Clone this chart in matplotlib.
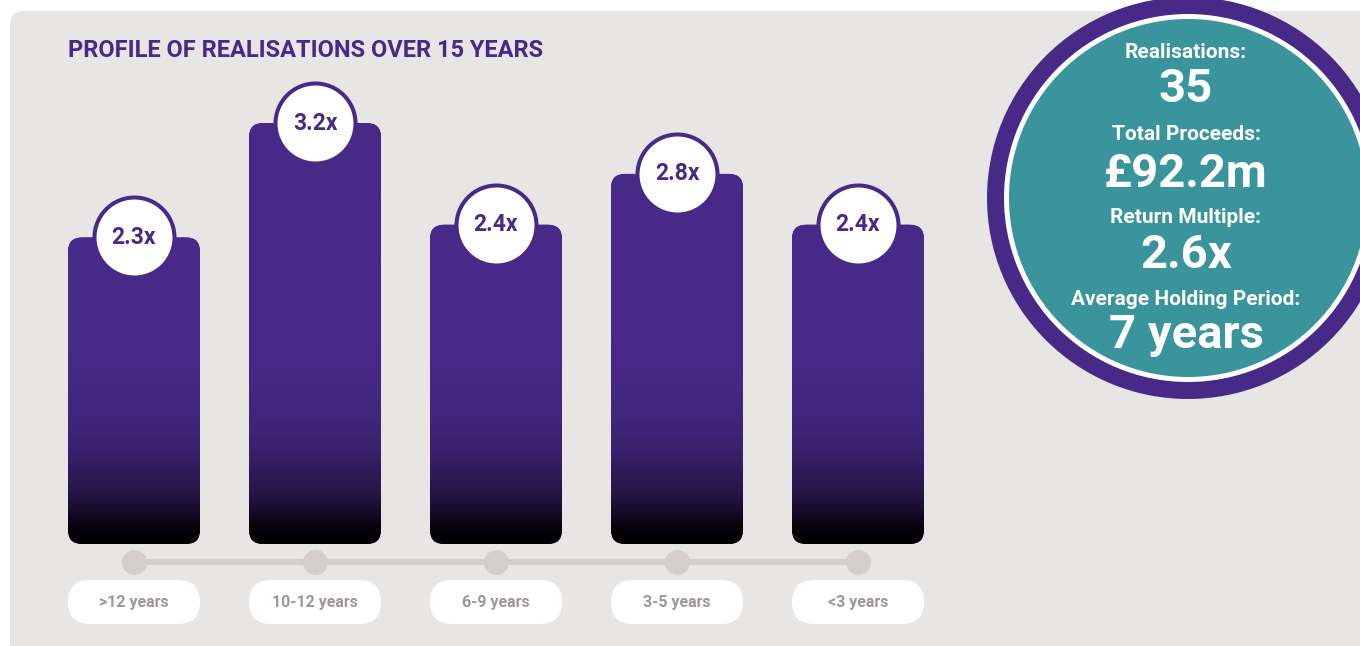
import matplotlib
matplotlib.use('Agg')
import matplotlib.pyplot as plt
from matplotlib.patches import FancyBboxPatch, Circle
from matplotlib.colors import LinearSegmentedColormap
import numpy as np

# ---------------- data ----------------
categories = ['>12 years', '10-12 years', '6-9 years', '3-5 years', '<3 years']
multiples = [2.3, 3.2, 2.4, 2.8, 2.4]
title = 'PROFILE OF REALISATIONS OVER 15 YEARS'
summary_labels = ['Realisations:', 'Total Proceeds:', 'Return Multiple:', 'Average Holding Period:']
summary_values = ['35', '£92.2m', '2.6x', '7 years']

# ---------------- style ----------------
PURPLE = '#472a88'
TEAL = '#3a949c'
PANEL = '#e7e6e4'
TL_GREY = '#d4cece'
LBL_GREY = '#9e9698'
FONT = ['Roboto', 'DejaVu Sans']
plt.rcParams['font.family'] = FONT

W, H = 1360, 646
fig = plt.figure(figsize=(W / 100, H / 100), dpi=100)
fig.patch.set_facecolor('white')

# background axes in pixel coordinates
bg = fig.add_axes([0, 0, 1, 1])
bg.set_xlim(0, W)
bg.set_ylim(H, 0)
bg.axis('off')
bg.add_patch(FancyBboxPatch((10, 11), 1500, 800, boxstyle='round,pad=0,rounding_size=14',
                            fc=PANEL, ec='none'))
bg.text(68, 57, title, ha='left', va='baseline', fontsize=17, fontweight='bold', color=PURPLE)

# summary circle
cx, cy = 1188, 198
bg.add_patch(Circle((cx, cy), 201, fc=PURPLE, ec='none'))
bg.add_patch(Circle((cx, cy), 184, fc='white', ec='none'))
bg.add_patch(Circle((cx, cy), 179, fc=TEAL, ec='none'))
label_base = [58, 140, 223, 305]
value_base = [102, 187, 268, 348]
for lab, val, lb, vb in zip(summary_labels, summary_values, label_base, value_base):
    bg.text(1186, lb, lab, ha='center', va='baseline', fontsize=15, fontweight='bold', color='white')
    bg.text(1186, vb, val, ha='center', va='baseline', fontsize=34, fontweight='bold', color='white')

# ---------------- bar axes ----------------
PXU = 127.1          # pixels per unit of multiple
ZERO_PX = 529.8      # pixel row of value 0
XSTEP = 181.0        # pixels per category
X0_PX = 134.0        # centre of first category


def px_to_y(px):
    return (ZERO_PX - px) / PXU


left_px = X0_PX - XSTEP / 2
ax = fig.add_axes([left_px / W, 0, XSTEP * 5 / W, 1])
ax.set_xlim(-0.5, 4.5)
ax.set_ylim(px_to_y(H), px_to_y(0))
ax.axis('off')
ax.set_autoscale_on(False)

aspect = XSTEP / PXU
bar_w = 132 / XSTEP
base = px_to_y(544)

# vertical fade (defined by pixel rows, bottom -> top)
FADE_BOT, FADE_TOP = 542, 350
fade_stops = [(542, '#000000'), (530, '#060209'), (515, '#140a25'), (500, '#21123c'),
              (480, '#2d1953'), (450, '#39216c'), (415, '#41267d'), (350, PURPLE)]
cmap = LinearSegmentedColormap.from_list(
    'fade', [((FADE_BOT - p) / (FADE_BOT - FADE_TOP), c) for p, c in fade_stops])
fade_top = px_to_y(FADE_TOP)
fade_bot = px_to_y(FADE_BOT)

x = np.arange(len(categories))
for xi, v in zip(x, multiples):
    patch = FancyBboxPatch((xi - bar_w / 2, base), bar_w, v - base,
                           boxstyle='round,pad=0,rounding_size=%f' % (14 / XSTEP),
                           mutation_aspect=aspect, fc=PURPLE, ec='none', zorder=2)
    ax.add_patch(patch)
    ys = np.linspace(v, base, 400)
    t = np.clip((ys - fade_bot) / (fade_top - fade_bot), 0, 1)
    img = ax.imshow(t[:, None], cmap=cmap, vmin=0, vmax=1, aspect='auto',
                    extent=(xi - bar_w / 2, xi + bar_w / 2, base, v), zorder=3,
                    interpolation='bilinear')
    img.set_clip_path(patch)

# value circles
ax.scatter(x, multiples, s=57.6 ** 2, marker='o', facecolor='white', edgecolor=PURPLE,
           linewidth=2.9, zorder=5)
for xi, v in zip(x, multiples):
    ax.annotate(f'{v}x', (xi, v), xytext=(0, -6.5 * 0.72), textcoords='offset points',
                ha='center', va='baseline', fontsize=16.5, fontweight='bold', color=PURPLE, zorder=6)

# timeline
y_tl = px_to_y(562)
ax.plot([x[0], x[-1]], [y_tl, y_tl], color=TL_GREY, lw=4.3, solid_capstyle='butt', zorder=2)
ax.scatter(x, [y_tl] * len(x), s=(25 * 0.72) ** 2, color=TL_GREY, zorder=3, linewidth=0)

# category pills
p_top, p_bot = px_to_y(580), px_to_y(624)
for xi, cat in zip(x, categories):
    ax.add_patch(FancyBboxPatch((xi - bar_w / 2, p_bot), bar_w, p_top - p_bot,
                                boxstyle='round,pad=0,rounding_size=%f' % (22 / XSTEP),
                                mutation_aspect=aspect, fc='white', ec='none', zorder=2))
    ax.text(xi, (p_top + p_bot) / 2, cat, ha='center', va='center', fontsize=11.5,
            fontweight='bold', color=LBL_GREY, zorder=3)

fig.savefig('out.png', dpi=100, facecolor='white')
